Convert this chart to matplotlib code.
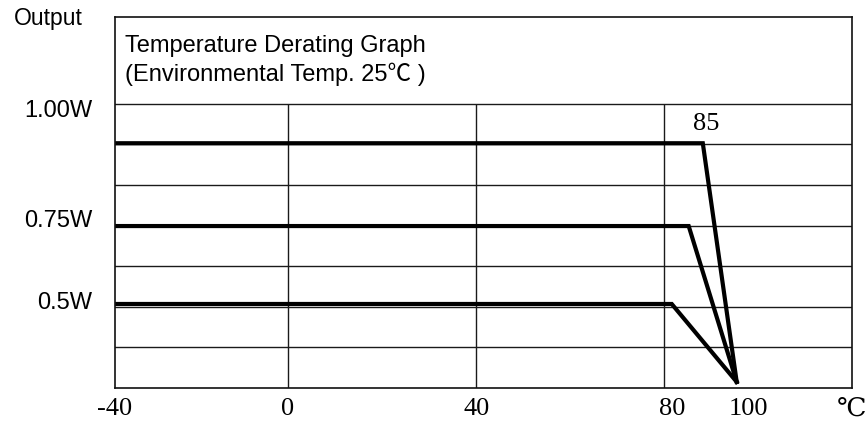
import numpy as np
import matplotlib.pyplot as plt

# derating curves (temperature in degC, output in W)
temp_1w = [-40, 88.3, 95.5]
out_1w = [1.00, 1.00, 0.0]
temp_075w = [-40, 85.3, 95.5]
out_075w = [0.75, 0.75, 0.0]
temp_05w = [-40, 81.7, 95.5]
out_05w = [0.50, 0.50, 0.0]

x_labels = ['-40', '0', '40', '80', '100', '℃']
x_label_pos = [-42.1, -0.2, 40.0, 81.7, 97.9, 120.6]
y_labels = ['1.00W', '0.75W', '0.5W']

# graph paper is not drawn to scale, so map values onto it piecewise
tk = [-40, 0, 40, 80, 120]
tu = [0, 173, 361, 548, 736]
wk = [-0.02, 0.0, 0.5, 0.75, 1.0, 1.5]
wu = [0, 0.15, 2.07, 3.99, 6.03, 9.14]


def fx(v):
    return np.interp(v, tk, tu)


def ix(v):
    return np.interp(v, tu, tk)


def fy(v):
    return np.interp(v, wk, wu)


def iy(v):
    return np.interp(v, wu, wk)


fig = plt.figure(figsize=(8.66, 4.25), dpi=100)
ax = fig.add_axes([115 / 866, 37 / 425, 737 / 866, 371 / 425])
ax.set_xscale('function', functions=(fx, ix))
ax.set_yscale('function', functions=(fy, iy))
ax.set_xlim(-40, 120)
ax.set_ylim(-0.02, 1.5)
ax.set_xticks([])
ax.set_yticks([])
ax.minorticks_off()
for s in ax.spines.values():
    s.set_linewidth(1.2)
    s.set_color('#111111')

# grid
for k in range(1, 8):
    ax.axhline(iy(k), color='#1a1a1a', lw=1.0)
ax.vlines([0, 40, 80], -0.02, iy(7), color='#1a1a1a', lw=1.0)

lw = 3.0
ax.plot(temp_1w, out_1w, color='black', lw=lw, solid_joinstyle='miter')
ax.plot(temp_075w, out_075w, color='black', lw=lw, solid_joinstyle='miter')
ax.plot(temp_05w, out_05w, color='black', lw=lw, solid_joinstyle='miter')

serif = ['Liberation Serif', 'DejaVu Serif']
sans = ['Liberation Sans', 'Noto Sans CJK SC']

ax.text(89.0, iy(6.5), '85', ha='center', va='center', fontsize=19, family=serif)

trans = ax.get_xaxis_transform()
for lab, p in zip(x_labels, x_label_pos):
    ax.text(p, -0.057, lab, ha='center', va='center', fontsize=19, family=serif,
            transform=trans, clip_on=False)

fig.text(125 / 866, 1 - 46 / 425, 'Temperature Derating Graph', ha='left', va='center',
         fontsize=17, family=sans)
fig.text(125 / 866, 1 - 74 / 425, '(Environmental Temp. 25℃ )', ha='left', va='center',
         fontsize=17, family=sans)

fig.text(48 / 866, 1 - 18 / 425, 'Output', ha='center', va='center', fontsize=16.5, family=sans)
for lab, yp in zip(y_labels, [111, 221, 303]):
    fig.text(92 / 866, 1 - yp / 425, lab, ha='right', va='center', fontsize=17, family=sans)

plt.savefig('out.png', dpi=100)
